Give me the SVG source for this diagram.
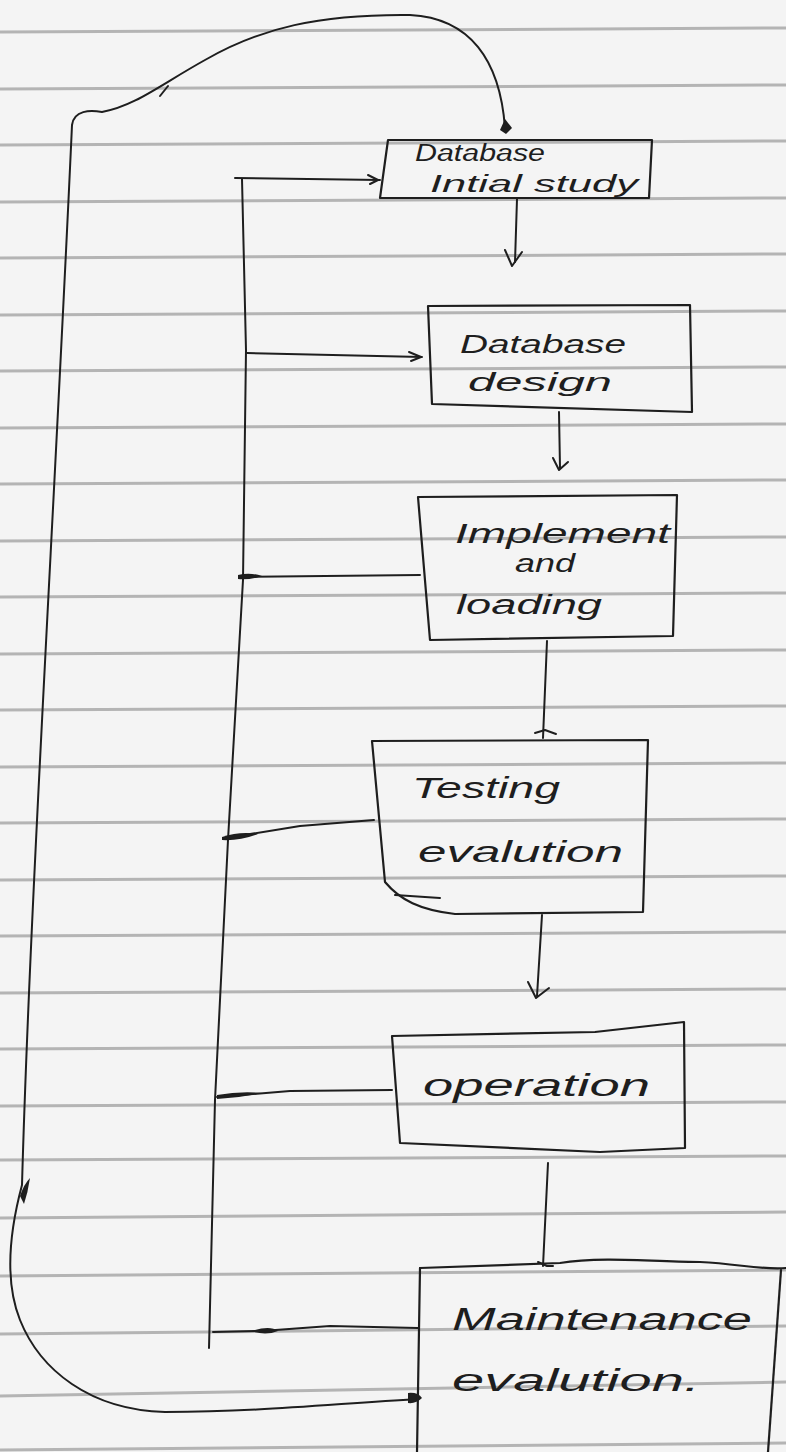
<svg xmlns="http://www.w3.org/2000/svg" width="786" height="1452" viewBox="0 0 786 1452">
<defs>
<style>
.paper{fill:#f4f4f4}
.rule{stroke:#b4b4b4;stroke-width:3;fill:none}
.box{fill:none;stroke:#1e1e1e;stroke-width:2.2;stroke-linejoin:round;stroke-linecap:round}
.ink{fill:none;stroke:#1e1e1e;stroke-width:2;stroke-linecap:round;stroke-linejoin:round}
.blob{fill:#1e1e1e}
.t{font-family:"Liberation Sans","DejaVu Sans",sans-serif;font-style:italic;fill:#1e1e1e}
</style>
</defs>
<rect class="paper" x="0" y="0" width="786" height="1452"/>
<g id="ruling">
<path class="rule" d="M0 32 L786 28"/>
<path class="rule" d="M0 89 L786 85"/>
<path class="rule" d="M0 145 L786 141"/>
<path class="rule" d="M0 202 L786 198"/>
<path class="rule" d="M0 258 L786 254"/>
<path class="rule" d="M0 315 L786 311"/>
<path class="rule" d="M0 371 L786 367"/>
<path class="rule" d="M0 428 L786 424"/>
<path class="rule" d="M0 484 L786 480"/>
<path class="rule" d="M0 541 L786 537"/>
<path class="rule" d="M0 597 L786 593"/>
<path class="rule" d="M0 654 L786 650"/>
<path class="rule" d="M0 710 L786 706"/>
<path class="rule" d="M0 767 L786 763"/>
<path class="rule" d="M0 823 L786 819"/>
<path class="rule" d="M0 880 L786 876"/>
<path class="rule" d="M0 936 L786 932"/>
<path class="rule" d="M0 993 L786 989"/>
<path class="rule" d="M0 1049 L786 1045"/>
<path class="rule" d="M0 1106 L786 1102"/>
<path class="rule" d="M0 1160 L786 1156"/>
<path class="rule" d="M0 1218 L786 1212"/>
<path class="rule" d="M0 1276 L786 1270"/>
<path class="rule" d="M0 1334 L786 1326"/>
<path class="rule" d="M0 1396 L786 1382"/>
<path class="rule" d="M0 1450 L786 1443"/>
</g>
<g id="connectors">
<path class="ink" d="M242 179 L246 350 L243 580 L228 840 L215 1100 L209 1348"/>
<path class="ink" d="M235 178 L380 180"/>
<path class="ink" d="M368 175 L378 180 L370 184"/>
<path class="ink" d="M247 353 L422 357"/>
<path class="ink" d="M409 352 L421 357 L411 361"/>
<path class="ink" d="M420 575 L242 577"/>
<path class="blob" d="M238 575 Q250 572 262 576 Q250 580 238 579 Z"/>
<path class="ink" d="M374 820 L300 826 L226 838"/>
<path class="blob" d="M222 837 Q240 831 258 834 Q240 841 222 840 Z"/>
<path class="ink" d="M392 1090 L290 1091 L217 1097"/>
<path class="blob" d="M217 1095 Q240 1091 262 1093 Q240 1098 217 1099 Z"/>
<path class="ink" d="M418 1328 L330 1326 L262 1331 L213 1332"/>
<path class="blob" d="M252 1331 Q270 1325 278 1331 Q265 1336 252 1331 Z"/>
<path class="ink" d="M517 199 L515 262"/>
<path class="ink" d="M505 250 L512 266 L522 252"/>
<path class="ink" d="M559 412 L560 468"/>
<path class="ink" d="M553 458 L559 470 L568 462"/>
<path class="ink" d="M547 641 L543 738"/>
<path class="ink" d="M535 733 L545 730 L556 734"/>
<path class="ink" d="M542 915 L537 996"/>
<path class="ink" d="M528 982 L536 998 L549 988"/>
<path class="ink" d="M548 1163 L543 1266"/>
<path class="ink" d="M538 1262 L547 1266 L553 1266"/>
<path class="ink" d="M418 1399 C330 1404 260 1412 165 1412 C90 1410 40 1370 20 1320 C4 1280 10 1230 22 1185 C30 900 55 500 72 125 C74 110 90 110 102 112 C135 106 160 85 205 60 C260 28 320 14 410 15 C470 18 500 60 505 128"/>
<path class="blob" d="M20 1196 Q24 1184 30 1178 Q28 1192 24 1204 Z"/>
<path class="blob" d="M408 1393 Q418 1392 422 1398 Q416 1404 408 1403 Z"/>
<path class="blob" d="M500 130 L505 119 L512 128 L506 134 Z"/>
<path class="ink" d="M160 96 L168 86"/>
</g>
<g id="node-initial-study">
<path class="box" d="M388 140 L652 140 L649 198 L380 198 Z"/>
<text class="t" x="415" y="161" font-size="23" textLength="130" lengthAdjust="spacingAndGlyphs">Database</text>
<text class="t" x="430" y="192" font-size="23" textLength="208" lengthAdjust="spacingAndGlyphs">Intial study</text>
</g>
<g id="node-design">
<path class="box" d="M428 306 L690 305 L692 412 L432 404 Z"/>
<text class="t" x="460" y="353" font-size="25" textLength="166" lengthAdjust="spacingAndGlyphs">Database</text>
<text class="t" x="468" y="391" font-size="25" textLength="144" lengthAdjust="spacingAndGlyphs">design</text>
</g>
<g id="node-implement">
<path class="box" d="M418 497 L677 495 L673 636 L430 640 Z"/>
<text class="t" x="455" y="543" font-size="27" textLength="215" lengthAdjust="spacingAndGlyphs">Implement</text>
<text class="t" x="515" y="572" font-size="25" textLength="60" lengthAdjust="spacingAndGlyphs">and</text>
<text class="t" x="456" y="614" font-size="27" textLength="146" lengthAdjust="spacingAndGlyphs">loading</text>
</g>
<g id="node-testing">
<path class="box" d="M372 741 L648 740 L643 912 L455 914 C420 910 400 900 385 882 L372 741 Z"/>
<path class="ink" d="M395 895 L440 898"/>
<text class="t" x="412" y="798" font-size="30" textLength="148" lengthAdjust="spacingAndGlyphs">Testing</text>
<text class="t" x="418" y="862" font-size="30" textLength="205" lengthAdjust="spacingAndGlyphs">evalution</text>
</g>
<g id="node-operation">
<path class="box" d="M392 1036 L595 1032 L684 1022 L685 1148 L600 1152 L400 1143 L392 1036 Z"/>
<text class="t" x="423" y="1096" font-size="31" textLength="227" lengthAdjust="spacingAndGlyphs">operation</text>
</g>
<g id="node-maintenance">
<path class="box" d="M420 1268 L560 1263 C600 1256 660 1262 700 1262 C740 1264 760 1270 786 1268"/>
<path class="box" d="M420 1268 L417 1452"/>
<path class="box" d="M781 1270 L768 1452"/>
<text class="t" x="452" y="1330" font-size="31" textLength="300" lengthAdjust="spacingAndGlyphs">Maintenance</text>
<text class="t" x="452" y="1391" font-size="31" textLength="248" lengthAdjust="spacingAndGlyphs">evalution.</text>
</g>
</svg>
